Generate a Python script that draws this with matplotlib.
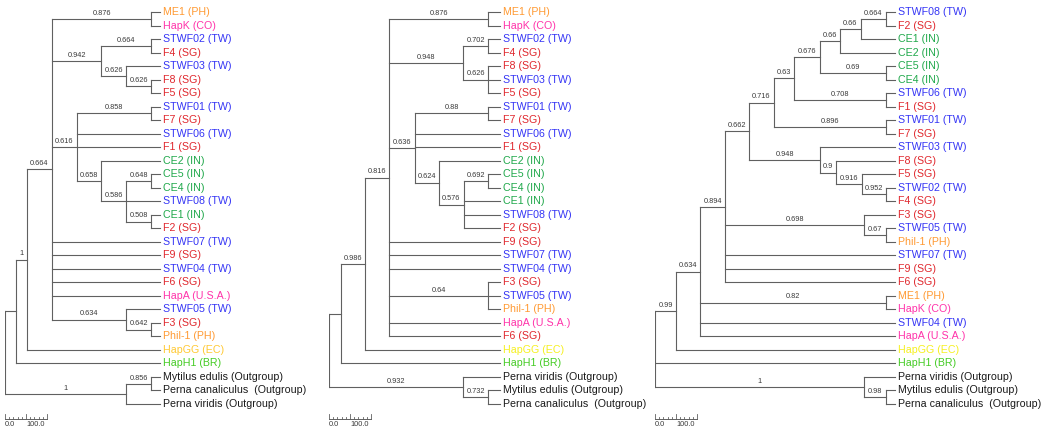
import matplotlib
matplotlib.use("Agg")
import matplotlib.pyplot as plt


def N(depth, support, *kids):
    """Internal tree node: depth in scale units, bootstrap support, children."""
    return (depth, support, list(kids))


# ---------------- data ----------------
# Tree 1 (left panel); depths in scale-bar units
tree1 = N(0, None,
          N(26, None,
            N(52, "1",
              N(112, "0.664",
                N(348, "0.876", "ME1 (PH)", "HapK (CO)"),
                N(229, "0.942",
                  N(348, "0.664", "STWF02 (TW)", "F4 (SG)"),
                  N(288, "0.626", "STWF03 (TW)",
                    N(348, "0.626", "F8 (SG)", "F5 (SG)"))),
                N(171, "0.616",
                  N(348, "0.858", "STWF01 (TW)", "F7 (SG)"),
                  "STWF06 (TW)", "F1 (SG)",
                  N(229, "0.658", "CE2 (IN)",
                    N(288, "0.586",
                      N(348, "0.648", "CE5 (IN)", "CE4 (IN)"),
                      "STWF08 (TW)",
                      N(348, "0.508", "CE1 (IN)", "F2 (SG)")))),
                "STWF07 (TW)", "F9 (SG)", "STWF04 (TW)", "F6 (SG)", "HapA (U.S.A.)",
                N(288, "0.634", "STWF05 (TW)",
                  N(348, "0.642", "F3 (SG)", "Phil-1 (PH)"))),
              "HapGG (EC)"),
            "HapH1 (BR)"),
          N(288, "1",
            N(348, "0.856", "Mytilus edulis (Outgroup)", "Perna canaliculus  (Outgroup)"),
            "Perna viridis (Outgroup)"))

# Tree 2 (middle panel)
tree2 = N(0, None,
          N(29, None,
            N(86, "0.986",
              N(143, "0.816",
                N(379, "0.876", "ME1 (PH)", "HapK (CO)"),
                N(319, "0.948",
                  N(379, "0.702", "STWF02 (TW)", "F4 (SG)"),
                  N(379, "0.626", "F8 (SG)", "STWF03 (TW)", "F5 (SG)")),
                N(205, "0.636",
                  N(379, "0.88", "STWF01 (TW)", "F7 (SG)"),
                  "STWF06 (TW)", "F1 (SG)",
                  N(262, "0.624", "CE2 (IN)",
                    N(321, "0.576",
                      N(379, "0.692", "CE5 (IN)", "CE4 (IN)"),
                      "CE1 (IN)", "STWF08 (TW)", "F2 (SG)"))),
                "F9 (SG)", "STWF07 (TW)", "STWF04 (TW)",
                N(379, "0.64", "F3 (SG)", "STWF05 (TW)", "Phil-1 (PH)"),
                "HapA (U.S.A.)", "F6 (SG)"),
              "HapGG (EC)"),
            "HapH1 (BR)"),
          N(319, "0.932",
            "Perna viridis (Outgroup)",
            N(379, "0.732", "Mytilus edulis (Outgroup)", "Perna canaliculus  (Outgroup)")))

# Tree 3 (right panel)
tree3 = N(0, None,
          N(50, "0.99",
            N(107, "0.634",
              N(167, "0.894",
                N(224, "0.662",
                  N(283, "0.716",
                    N(331, "0.63",
                      N(393, "0.676",
                        N(440, "0.66",
                          N(490, "0.66",
                            N(550, "0.664", "STWF08 (TW)", "F2 (SG)"),
                            "CE1 (IN)"),
                          "CE2 (IN)"),
                        N(550, "0.69", "CE5 (IN)", "CE4 (IN)")),
                      N(550, "0.708", "STWF06 (TW)", "F1 (SG)")),
                    N(550, "0.896", "STWF01 (TW)", "F7 (SG)")),
                  N(393, "0.948", "STWF03 (TW)",
                    N(431, "0.9", "F8 (SG)",
                      N(493, "0.916", "F5 (SG)",
                        N(550, "0.952", "STWF02 (TW)", "F4 (SG)"))))),
                N(498, "0.698", "F3 (SG)",
                  N(550, "0.67", "STWF05 (TW)", "Phil-1 (PH)")),
                "STWF07 (TW)", "F9 (SG)", "F6 (SG)"),
              N(550, "0.82", "ME1 (PH)", "HapK (CO)"),
              "STWF04 (TW)", "HapA (U.S.A.)"),
            "HapGG (EC)"),
          "HapH1 (BR)",
          N(498, "1",
            "Perna viridis (Outgroup)",
            N(550, "0.98", "Mytilus edulis (Outgroup)", "Perna canaliculus  (Outgroup)")))

trees = [tree1, tree2, tree3]
leaf_depths = [369, 407, 571]
scale_length = 100
scale_labels = ["0.0", "100.0"]

region_colors = {"PH": "#FF9A33", "CO": "#FF33AA", "U.S.A.": "#FF33AA",
                 "TW": "#3535F5", "SG": "#E0282E", "IN": "#1FA84A",
                 "EC": "#FFE030", "BR": "#45CC25", "Outgroup": "#1a1a1a"}
ec_colors = ["#FFC933", "#F6F020", "#F6F020"]

# ---------------- layout ----------------
W, H = 1047, 438
root_px = [5, 329, 655]
px_per_unit = 0.42
row_top, row_step = 12.0, 13.517
axes_w_px = 330

plt.rcParams['font.family'] = ['Liberation Sans', 'DejaVu Sans']
fig = plt.figure(figsize=(W / 100, H / 100), dpi=100)

line_kw = dict(color="#606060", lw=0.8, solid_capstyle="projecting")


def leaf_color(name, panel):
    reg = name[name.rfind("(") + 1:name.rfind(")")]
    if reg == "EC":
        return ec_colors[panel]
    return region_colors.get(reg, "#1a1a1a")


def draw(ax, node, parent_depth, leaf_depth, counter, panel):
    if isinstance(node, str):
        y = counter[0]
        counter[0] += 1
        ax.plot([parent_depth, leaf_depth], [y, y], **line_kw)
        ax.text(leaf_depth + 7, y, node, color=leaf_color(node, panel),
                fontsize=7.7, ha="left", va="center")
        return y
    depth, support, kids = node
    ys = [draw(ax, k, depth, leaf_depth, counter, panel) for k in kids]
    y = (ys[0] + ys[-1]) / 2
    ax.plot([depth, depth], [ys[0], ys[-1]], **line_kw)
    if parent_depth is not None:
        ax.plot([parent_depth, depth], [y, y], **line_kw)
        if support:
            ax.text((parent_depth + depth) / 2, y - 0.16, support,
                    fontsize=5.3, color="#3a3a3a", ha="center", va="bottom")
    return y


for i, tree in enumerate(trees):
    ax = fig.add_axes([root_px[i] / W, 0, axes_w_px / W, 1])
    ax.set_xlim(0, axes_w_px / px_per_unit)
    ax.set_ylim((H - row_top) / row_step, -row_top / row_step)
    ax.axis("off")
    draw(ax, tree, None, leaf_depths[i], [0], i)

    # scale bar
    yb = (419 - row_top) / row_step
    ymaj = (414 - row_top) / row_step
    ymin = (416.5 - row_top) / row_step
    ax.plot([0, scale_length], [yb, yb], color="#606060", lw=0.7)
    for k in range(11):
        xt = k * scale_length / 10
        ytop = ymaj if k in (0, 5, 10) else ymin
        ax.plot([xt, xt], [yb, ytop], color="#606060", lw=0.6)
    ylab = (424.5 - row_top) / row_step
    for j, lab in enumerate(scale_labels):
        ax.text(j * scale_length / 2, ylab, lab, fontsize=5.3, color="#3a3a3a",
                ha="left", va="center")

fig.savefig("out.png", dpi=100)
